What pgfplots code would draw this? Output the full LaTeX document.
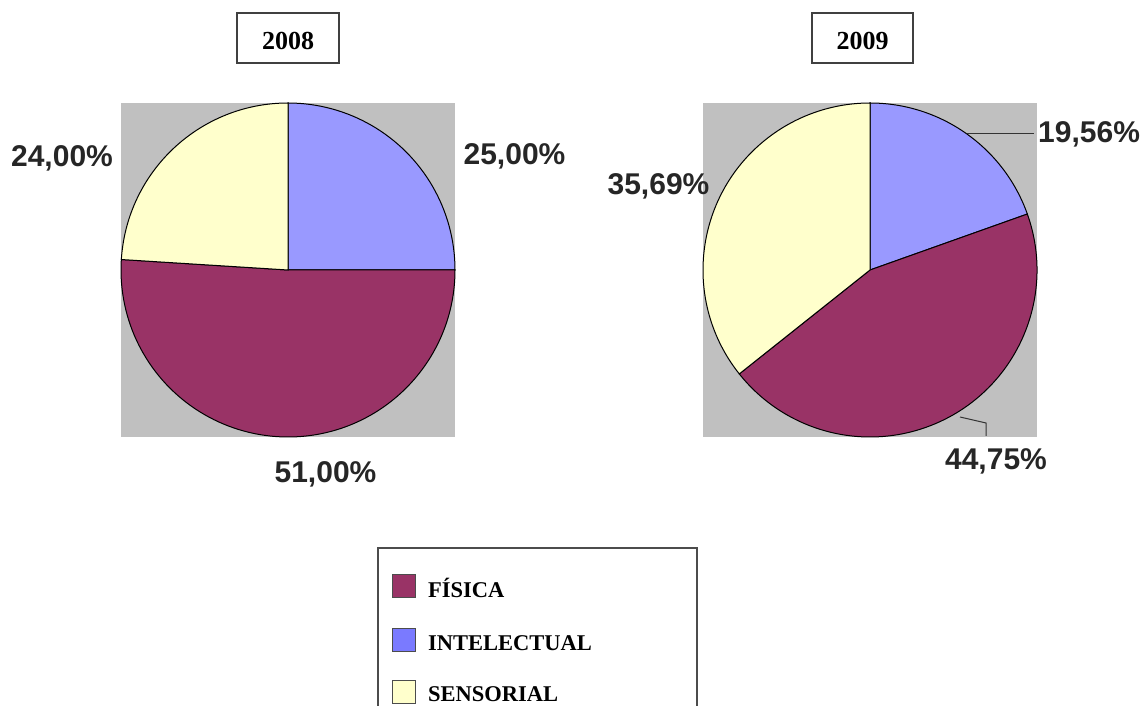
\documentclass[border=0pt]{standalone}
\usepackage{pgfplots}
\pgfplotsset{compat=1.18}
\usepackage{fontspec}
\setmainfont{Liberation Serif}
\newfontfamily\labfont{Liberation Sans}
\definecolor{fis}{HTML}{993366}
\definecolor{intel}{HTML}{9999FF}
\definecolor{sens}{HTML}{FFFFCC}
\definecolor{bgg}{HTML}{C0C0C0}
% pie slice: colour, start angle, percentage (clockwise)
\newcommand\pieslice[3]{\fill[#1,draw=black,line width=1pt]
  (axis cs:0,0) -- (axis cs:{cos(#2)},{sin(#2)})
  arc[start angle={#2}, delta angle={-3.6*#3}, radius=167pt] -- cycle;}
\pgfplotsset{piebox/.style={anchor=south west, width=334pt, height=334pt,
  scale only axis, xmin=-1, xmax=1, ymin=-1, ymax=1,
  axis line style={draw=none}, xtick=\empty, ytick=\empty,
  axis background/.style={fill=bgg}, clip=false}}
\begin{document}
\begin{tikzpicture}[x=1pt,y=1pt]
\useasboundingbox (0,0) rectangle (1145,706);
\clip (0,0) rectangle (1145,706);
% 2008: Intelectual 25.00, Fisica 51.00, Sensorial 24.00
\begin{axis}[piebox, at={(121pt,269pt)}]
\pieslice{intel}{90}{25.00}
\pieslice{fis}{90-3.6*25.00}{51.00}
\pieslice{sens}{90-3.6*(25.00+51.00)}{24.00}
\end{axis}
% 2009: Intelectual 19.56, Fisica 44.75, Sensorial 35.69
\begin{axis}[piebox, at={(703pt,269pt)}]
\pieslice{intel}{90}{19.56}
\pieslice{fis}{90-3.6*19.56}{44.75}
\pieslice{sens}{90-3.6*(19.56+44.75)}{35.69}
\end{axis}
% titles
\draw[draw=black!75,line width=1.3pt,fill=white] (237,643) rectangle (339,693);
\node[anchor=base,font=\fontsize{26}{30}\selectfont\bfseries,inner sep=0] at (288,656) {2008};
\draw[draw=black!75,line width=1.3pt,fill=white] (812,643) rectangle (913,693);
\node[anchor=base,font=\fontsize{26}{30}\selectfont\bfseries,inner sep=0] at (862.5,656) {2009};
% percentage labels
\tikzset{pl/.style={font=\labfont\fontsize{30}{34}\selectfont\bfseries,inner sep=0,text=black!85}}
\node[pl,anchor=base] at (62,539) {24,00\%};
\node[pl,anchor=base] at (514.5,541) {25,00\%};
\node[pl,anchor=base] at (325.5,223) {51,00\%};
\node[pl,anchor=base] at (658.5,511) {35,69\%};
\node[pl,anchor=base west] at (1038,563) {19,56\%};
\node[pl,anchor=base] at (996,236) {44,75\%};
\draw[line width=1pt,black!80] (967,572) -- (1034,572);
\draw[line width=1pt,black!80] (960,289) -- (986,283) -- (986,270);
% legend
\draw[draw=black!70,line width=1.3pt,fill=white] (378,158) rectangle (697,-20);
\tikzset{lt/.style={anchor=base west,font=\fontsize{22.5}{26}\selectfont\bfseries,inner sep=0}}
\draw[fill=fis,draw=black!70,line width=1pt] (392,108) rectangle (415,131);
\node[lt] at (428,108) {FÍSICA};
\draw[fill=intel!80!blue,draw=black!70,line width=1pt] (392,54) rectangle (415,77);
\node[lt] at (428,55) {INTELECTUAL};
\draw[fill=sens,draw=black!70,line width=1pt] (392,2) rectangle (415,25);
\node[lt] at (428,4) {SENSORIAL};
\end{tikzpicture}
\end{document}
